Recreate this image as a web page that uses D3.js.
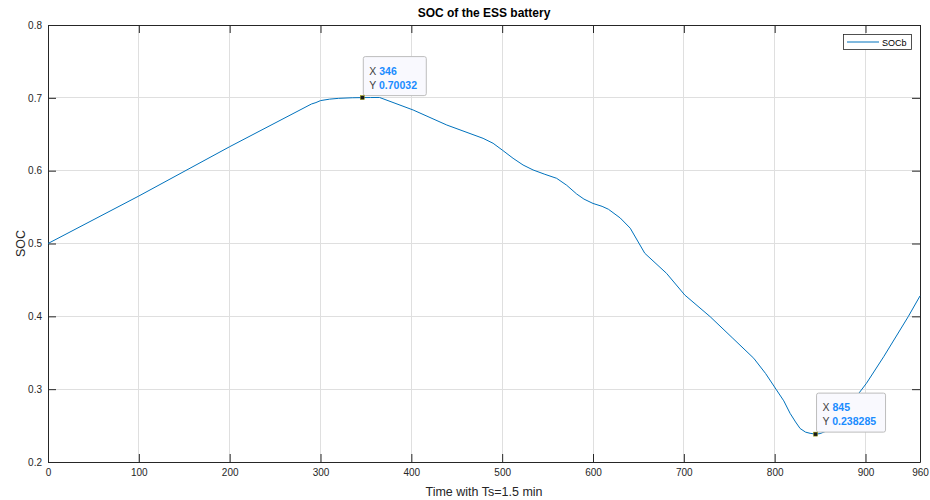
<!DOCTYPE html>
<html>
<head>
<meta charset="utf-8">
<script src="https://cdn.jsdelivr.net/npm/d3@7"></script>
<style>
  html, body { margin: 0; padding: 0; background: #ffffff; }
  svg { display: block; font-family: "Liberation Sans", Arial, Helvetica, sans-serif; }
</style>
</head>
<body>
<svg id="chart" width="930" height="500"></svg>
<script>
// ---- data ----
const timeSteps = [0, 100, 200, 290, 295, 300, 310, 320, 335, 346, 355, 365, 402, 439, 479, 490, 500, 512, 523, 534, 547, 560, 571, 582, 590, 600, 610, 617, 630, 641, 657, 681, 701, 729, 754, 777, 790, 802, 810, 817, 823, 828, 834, 839, 845, 850, 860, 870, 880, 890, 901, 920, 947, 960];
const socValues = [0.5, 0.5652, 0.6329, 0.6915, 0.6935, 0.6962, 0.6982, 0.6993, 0.7001, 0.70032, 0.7004, 0.7005, 0.6833, 0.6627, 0.6444, 0.6376, 0.6284, 0.6170, 0.6078, 0.6010, 0.5950, 0.5895, 0.5800, 0.5680, 0.5610, 0.5550, 0.5510, 0.5470, 0.5350, 0.5210, 0.4866, 0.4590, 0.4293, 0.3995, 0.3698, 0.3424, 0.3215, 0.2990, 0.2840, 0.2668, 0.2550, 0.2460, 0.2410, 0.2394, 0.238285, 0.2390, 0.2440, 0.2560, 0.2710, 0.2900, 0.3080, 0.3445, 0.3995, 0.4280];
const xTicks = [0, 100, 200, 300, 400, 500, 600, 700, 800, 900, 960];
const yTicks = [0.2, 0.3, 0.4, 0.5, 0.6, 0.7, 0.8];
const dataTipX = [346, 845];
const dataTipY = [0.70032, 0.238285];
const seriesName = "SOCb";
const titleText = "SOC of the ESS battery";
const xLabelText = "Time with Ts=1.5 min";
const yLabelText = "SOC";

// ---- layout ----
const svg = d3.select("#chart");
const L = 48, R = 920, T = 25, B = 462;
const x = d3.scaleLinear().domain([0, 960]).range([L, R]);
const y = d3.scaleLinear().domain([0.2, 0.8]).range([B, T]);
const axisColor = "#262626";
const lineColor = "#0072BD";
const tickLen = 8;

// grid
const grid = svg.append("g");
grid.selectAll("line.gx").data(xTicks).join("line")
  .attr("x1", d => x(d)).attr("x2", d => x(d)).attr("y1", T).attr("y2", B)
  .attr("stroke", "#dfdfdf").attr("stroke-width", 1).attr("shape-rendering", "crispEdges");
grid.selectAll("line.gy").data(yTicks).join("line")
  .attr("x1", L).attr("x2", R).attr("y1", d => y(d)).attr("y2", d => y(d))
  .attr("stroke", "#dfdfdf").attr("stroke-width", 1).attr("shape-rendering", "crispEdges");

// axes (ticks inward on all four sides)
function styleAxis(g) {
  g.select(".domain").attr("stroke", axisColor);
  g.selectAll(".tick line").attr("stroke", axisColor);
  g.selectAll(".tick text").attr("fill", axisColor).attr("font-size", "10px")
    .attr("font-family", "'Liberation Sans', Arial, sans-serif");
}
const xAxis = d3.axisBottom(x).tickValues(xTicks).tickFormat(d3.format("d")).tickSizeInner(-tickLen).tickSizeOuter(0).tickPadding(7);
svg.append("g").attr("transform", `translate(0,${B})`).call(xAxis).call(styleAxis);
const xAxisTop = d3.axisTop(x).tickValues(xTicks).tickFormat("").tickSizeInner(-tickLen).tickSizeOuter(0);
svg.append("g").attr("transform", `translate(0,${T})`).call(xAxisTop).call(styleAxis);
const yAxis = d3.axisLeft(y).tickValues(yTicks).tickFormat(d3.format(".1f")).tickSizeInner(-tickLen).tickSizeOuter(0).tickPadding(6);
svg.append("g").attr("transform", `translate(${L},0)`).call(yAxis).call(styleAxis);
const yAxisRight = d3.axisRight(y).tickValues(yTicks).tickFormat("").tickSizeInner(-tickLen).tickSizeOuter(0);
svg.append("g").attr("transform", `translate(${R},0)`).call(yAxisRight).call(styleAxis);

// line
const pts = timeSteps.map((t, i) => [t, socValues[i]]);
svg.append("path").datum(pts)
  .attr("fill", "none").attr("stroke", lineColor).attr("stroke-width", 1)
  .attr("d", d3.line().x(d => x(d[0])).y(d => y(d[1])));

// title and labels
svg.append("text").attr("x", (L + R) / 2).attr("y", 17).attr("text-anchor", "middle")
  .attr("font-size", "12px").attr("font-weight", "bold").attr("fill", "#000").text(titleText);
svg.append("text").attr("x", (L + R) / 2).attr("y", 496).attr("text-anchor", "middle")
  .attr("font-size", "12.5px").attr("fill", axisColor).text(xLabelText);
svg.append("text").attr("transform", `translate(25,${(T + B) / 2}) rotate(-90)`).attr("text-anchor", "middle")
  .attr("font-size", "12.5px").attr("fill", axisColor).text(yLabelText);

// legend
const lg = svg.append("g");
lg.append("rect").attr("x", 843.5).attr("y", 34.5).attr("width", 68).attr("height", 15)
  .attr("fill", "#fff").attr("stroke", axisColor).attr("stroke-width", 0.8);
lg.append("line").attr("x1", 847).attr("x2", 879).attr("y1", 42).attr("y2", 42)
  .attr("stroke", lineColor).attr("stroke-width", 1);
lg.append("text").attr("x", 882).attr("y", 45.5).attr("font-size", "9px").attr("fill", "#000").text(seriesName);

// data tips
dataTipX.forEach((tx, i) => {
  const px = x(tx), py = y(dataTipY[i]);
  const g = svg.append("g");
  const boxW = i === 0 ? 63 : 69;
  g.append("rect").attr("x", px + 1).attr("y", py - 41).attr("width", boxW).attr("height", 39)
    .attr("rx", 2).attr("fill", "#f9f9fe").attr("stroke", "#bdbdbd").attr("stroke-width", 1);
  const t1 = g.append("text").attr("x", px + 7).attr("y", py - 23).attr("font-size", "10.5px");
  t1.append("tspan").attr("fill", "#404040").text("X ");
  t1.append("tspan").attr("fill", "#1a8cff").attr("font-weight", "bold").text(d3.format("d")(tx));
  const t2 = g.append("text").attr("x", px + 7).attr("y", py - 9).attr("font-size", "10.5px");
  t2.append("tspan").attr("fill", "#404040").text("Y ");
  t2.append("tspan").attr("fill", "#1a8cff").attr("font-weight", "bold").text(String(dataTipY[i]));
  g.append("rect").attr("x", px - 2).attr("y", py - 2).attr("width", 4).attr("height", 4)
    .attr("fill", "#1a1a1a").attr("stroke", "#a0a000").attr("stroke-width", 0.5);
});
</script>
</body>
</html>
